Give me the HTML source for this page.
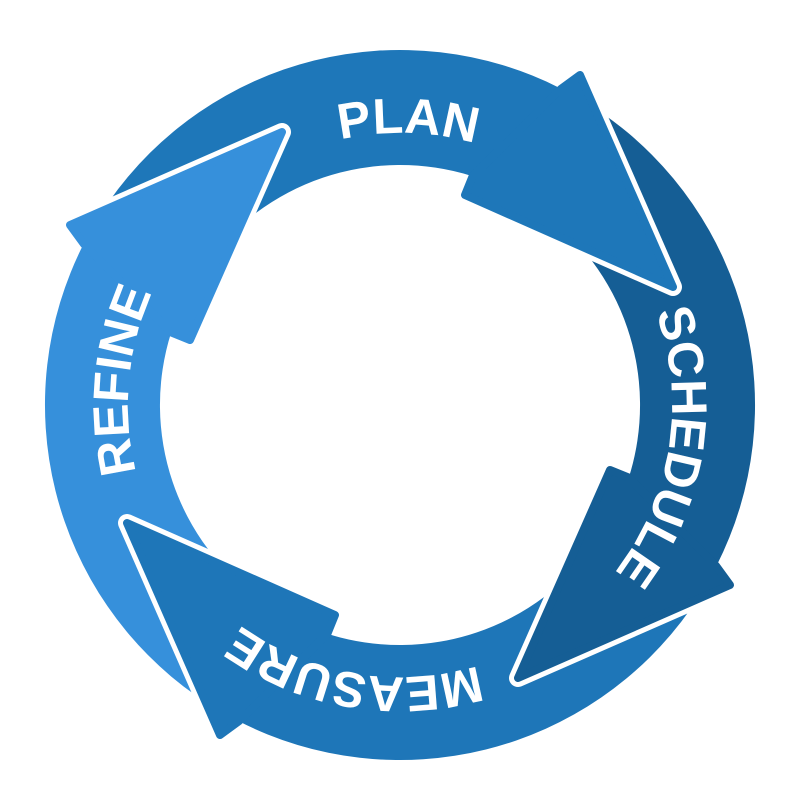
<!DOCTYPE html>
<html><head><meta charset="utf-8"><style>
html,body{margin:0;padding:0;background:#fff;}
svg{display:block;}
text{font-family:"Liberation Sans",sans-serif;font-weight:bold;font-size:50px;fill:#fff;letter-spacing:0px;}
</style></head><body>
<svg width="800" height="812" viewBox="0 0 800 812" xmlns="http://www.w3.org/2000/svg">
<defs>
<path id="band" d="M109.2,201.3 A355 355 0 0 1 561.2,88.7 L472.6,176.2 A240 240 0 0 0 203.4,267.3 Z"/>
<path id="head" d="M561.2,88.7 L580,75 L673,287 L465,195 L472.6,176.2 Z"/>
<path id="edge" d="M580,75 L673,287 L465,195"/>
<path id="circ" d="M400,677 A272 272 0 1 1 400,133 A272 272 0 1 1 400,677 A272 272 0 1 1 400,133 A272 272 0 1 1 400,677"/>
</defs>
<use href="#band" fill="#1e77b9"/>
<use href="#band" fill="#155e95" transform="rotate(90 400 405)"/>
<use href="#band" fill="#1e76b8" transform="rotate(180 400 405)"/>
<use href="#band" fill="#3690db" transform="rotate(270 400 405)"/>
<g>
<use href="#edge" fill="none" stroke="#fff" stroke-width="18" stroke-linejoin="round" stroke-linecap="round"/>
<use href="#head" fill="#1e77b9" stroke="#1e77b9" stroke-width="8" stroke-linejoin="round"/>
</g>
<g transform="rotate(90 400 405)">
<use href="#edge" fill="none" stroke="#fff" stroke-width="18" stroke-linejoin="round" stroke-linecap="round"/>
<use href="#head" fill="#155e95" stroke="#155e95" stroke-width="8" stroke-linejoin="round"/>
</g>
<g transform="rotate(180 400 405)">
<use href="#edge" fill="none" stroke="#fff" stroke-width="18" stroke-linejoin="round" stroke-linecap="round"/>
<use href="#head" fill="#1e76b8" stroke="#1e76b8" stroke-width="8" stroke-linejoin="round"/>
</g>
<g transform="rotate(270 400 405)">
<use href="#edge" fill="none" stroke="#fff" stroke-width="18" stroke-linejoin="round" stroke-linecap="round"/>
<use href="#head" fill="#3690db" stroke="#3690db" stroke-width="8" stroke-linejoin="round"/>
</g>
<text text-anchor="middle"><textPath href="#circ" startOffset="451">REFINE</textPath></text>
<text text-anchor="middle"><textPath href="#circ" startOffset="862">PLAN</textPath></text>
<text text-anchor="middle"><textPath href="#circ" startOffset="1324">SCHEDULE</textPath></text>
<text text-anchor="middle"><textPath href="#circ" startOffset="1754">MEASURE</textPath></text>
</svg>
</body></html>
